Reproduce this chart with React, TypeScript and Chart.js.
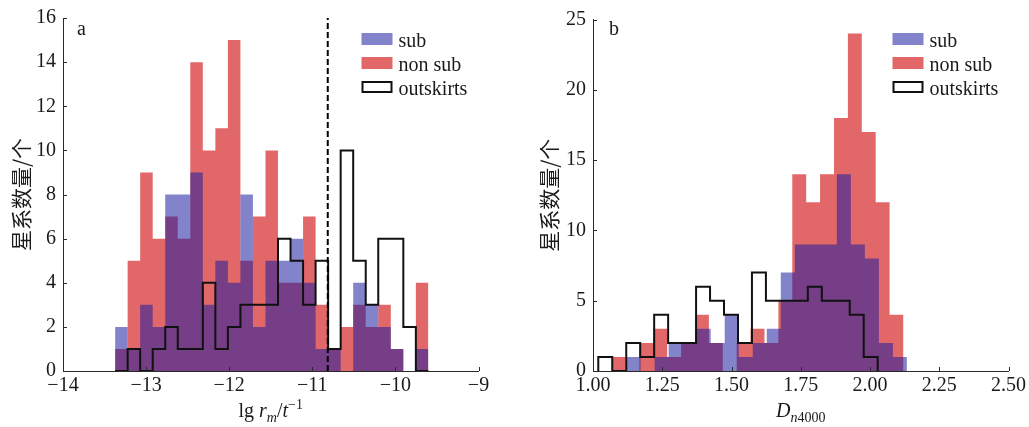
import { useEffect, useRef } from "react";
import { Chart, registerables } from "chart.js";

Chart.register(...registerables);

const SERIF = "'Liberation Serif', 'Times New Roman', serif";
const CJK = "'Noto Sans CJK SC', 'Noto Sans CJK JP', sans-serif";
const AXIS = "#2a2a2a";
const SUB_COLOR = "rgba(30,30,160,0.55)";
const NONSUB_COLOR = "rgba(214,39,40,0.7)";
const OUT_COLOR = "#111111";

const seriesNames = ["sub", "non sub", "outskirts"];
const yTitle = "星系数量/个";

// ---- panel a : lg r_m / t^-1 ----
const lgBinStart = -13.373;
const lgBinWidth = 0.1508;
const lgSub = [2, 1, 3, 2, 8, 8, 9, 3, 5, 4, 8, 2, 5, 5, 6, 4, 1, 1, 0, 4, 3, 2, 1, 0, 1];
const lgNonSub = [1, 5, 9, 6, 7, 6, 14, 10, 11, 15, 5, 7, 10, 4, 4, 7, 3, 1, 2, 3, 2, 3, 1, 0, 4];
const lgOutskirts = [0, 1, 0, 1, 2, 1, 1, 4, 1, 2, 3, 3, 3, 6, 5, 3, 5, 1, 10, 5, 3, 6, 6, 2, 0];
const lgCut = -10.814;
const lgXTicks = [-14, -13, -12, -11, -10, -9];
const lgYTicks = [0, 2, 4, 6, 8, 10, 12, 14, 16];

// ---- panel b : D_n4000 ----
const dnSubStart = 1.1213;
const dnSubWidth = 0.0506;
const dnSub = [1, 0, 1, 2, 2, 3, 2, 4, 1, 2, 3, 7, 9, 9, 9, 14, 9, 8, 2, 1];
const dnNonSubStart = 1.0671;
const dnNonSubWidth = 0.05018;
const dnNonSub = [1, 0, 2, 3, 1, 2, 4, 2, 0, 2, 3, 2, 5, 14, 12, 14, 18, 24, 17, 12, 4];
const dnOutStart = 1.0191;
const dnOutWidth = 0.05043;
const dnOutskirts = [1, 0, 2, 1, 4, 2, 2, 6, 5, 4, 2, 7, 5, 5, 5, 6, 5, 5, 4, 1];
const dnXTicks = [1.0, 1.25, 1.5, 1.75, 2.0, 2.25, 2.5];
const dnYTicks = [0, 5, 10, 15, 20, 25];

function stepPoints(start: number, width: number, counts: number[]) {
  const pts: { x: number; y: number }[] = [{ x: start, y: 0 }];
  counts.forEach((c, i) => pts.push({ x: start + i * width, y: c }));
  pts.push({ x: start + counts.length * width, y: 0 });
  return pts;
}

type Seg = { t: string; italic?: boolean; size?: number; dy?: number };

function drawRich(ctx: CanvasRenderingContext2D, segs: Seg[], cx: number, baseline: number) {
  const fontOf = (s: Seg) => `${s.italic ? "italic " : ""}${s.size || 20}px ${SERIF}`;
  const widths = segs.map((s) => {
    ctx.font = fontOf(s);
    return ctx.measureText(s.t).width;
  });
  const total = widths.reduce((a, b) => a + b, 0);
  let x = cx - total / 2;
  ctx.textAlign = "left";
  ctx.textBaseline = "alphabetic";
  segs.forEach((s, i) => {
    ctx.font = fontOf(s);
    ctx.fillText(s.t, x, baseline + (s.dy || 0));
    x += widths[i];
  });
}

type PanelCfg = {
  letter: string;
  letterX: number;
  xTitle: Seg[];
  yTitleOffset: number;
  legendRightOffset: number;
};

function decorPlugin(cfg: PanelCfg) {
  return {
    id: "decor" + cfg.letter,
    afterDraw(chart: any) {
      const ctx: CanvasRenderingContext2D = chart.ctx;
      const area = chart.chartArea;
      const xs = chart.scales.x;
      const ys = chart.scales.y;
      ctx.save();
      // inward tick marks
      ctx.strokeStyle = AXIS;
      ctx.lineWidth = 1;
      ctx.beginPath();
      ys.ticks.forEach((t: any) => {
        const y = Math.round(ys.getPixelForValue(t.value)) + 0.5;
        ctx.moveTo(area.left, y);
        ctx.lineTo(area.left + 4, y);
      });
      xs.ticks.forEach((t: any) => {
        const x = Math.round(xs.getPixelForValue(t.value)) + 0.5;
        ctx.moveTo(x, area.bottom);
        ctx.lineTo(x, area.bottom - 4);
      });
      ctx.stroke();

      ctx.fillStyle = "#1a1a1a";
      // panel letter
      ctx.font = `20px ${SERIF}`;
      ctx.textAlign = "left";
      ctx.textBaseline = "alphabetic";
      ctx.fillText(cfg.letter, cfg.letterX, 35);

      // x title
      drawRich(ctx, cfg.xTitle, (area.left + area.right) / 2, 417);

      // y title
      ctx.save();
      ctx.translate(area.left - cfg.yTitleOffset, (area.top + area.bottom) / 2);
      ctx.rotate(-Math.PI / 2);
      ctx.font = `21px ${CJK}`;
      ctx.textAlign = "center";
      ctx.textBaseline = "middle";
      ctx.fillText(yTitle, 0, 0);
      ctx.restore();

      // legend
      const bx = area.right - cfg.legendRightOffset;
      const tops = [33, 57, 81];
      const fills = [SUB_COLOR, NONSUB_COLOR, "#ffffff"];
      tops.forEach((top, i) => {
        ctx.fillStyle = fills[i];
        ctx.fillRect(bx, top, 31, 12);
        if (i === 2) {
          ctx.strokeStyle = OUT_COLOR;
          ctx.lineWidth = 2;
          ctx.strokeRect(bx + 1, top + 1, 29, 10);
        }
        ctx.fillStyle = "#1a1a1a";
        ctx.font = `20px ${SERIF}`;
        ctx.textAlign = "left";
        ctx.textBaseline = "alphabetic";
        ctx.fillText(seriesNames[i], bx + 37, top + 13.5);
      });
      ctx.restore();
    },
  };
}

function histDatasets(sub: any[], nonSub: any[], out: any[]) {
  return [
    {
      label: seriesNames[1],
      data: nonSub,
      stepped: true,
      fill: "origin",
      backgroundColor: NONSUB_COLOR,
      borderWidth: 0,
      pointRadius: 0,
      order: 4,
    },
    {
      label: seriesNames[0],
      data: sub,
      stepped: true,
      fill: "origin",
      backgroundColor: SUB_COLOR,
      borderWidth: 0,
      pointRadius: 0,
      order: 3,
    },
    {
      label: seriesNames[2],
      data: out,
      stepped: true,
      fill: false,
      borderColor: OUT_COLOR,
      borderWidth: 2,
      pointRadius: 0,
      order: 2,
    },
  ];
}

function makeOptions(o: {
  xmin: number;
  xmax: number;
  ymax: number;
  xTicks: number[];
  yTicks: number[];
  yWidth: number;
  padRight: number;
  padTop: number;
  fmt: (v: number) => string;
}) {
  const tickFont = { family: SERIF, size: 20 };
  return {
    responsive: false,
    animation: false,
    events: [],
    layout: { padding: { left: 0, right: o.padRight, top: o.padTop, bottom: 0 } },
    plugins: { legend: { display: false }, tooltip: { enabled: false } },
    scales: {
      x: {
        type: "linear",
        min: o.xmin,
        max: o.xmax,
        grid: { display: false, drawTicks: false },
        border: { display: true, color: AXIS, width: 1 },
        ticks: {
          font: tickFont,
          color: "#1a1a1a",
          padding: 3,
          maxRotation: 0,
          autoSkip: false,
          callback: (v: any) => o.fmt(Number(v)),
        },
        afterBuildTicks: (s: any) => {
          s.ticks = o.xTicks.map((v) => ({ value: v }));
        },
        afterFit: (s: any) => {
          s.height = 56;
          s.paddingLeft = 0;
          s.paddingRight = 0;
        },
      },
      y: {
        type: "linear",
        min: 0,
        max: o.ymax,
        grid: { display: false, drawTicks: false },
        border: { display: true, color: AXIS, width: 1 },
        ticks: {
          font: tickFont,
          color: "#1a1a1a",
          padding: 7,
          autoSkip: false,
        },
        afterBuildTicks: (s: any) => {
          s.ticks = o.yTicks.map((v) => ({ value: v }));
        },
        afterFit: (s: any) => {
          s.width = o.yWidth;
          s.paddingTop = 0;
          s.paddingBottom = 0;
        },
      },
    },
  };
}

export default function App() {
  const refA = useRef<HTMLCanvasElement>(null);
  const refB = useRef<HTMLCanvasElement>(null);

  useEffect(() => {
    const dsA: any[] = histDatasets(
      stepPoints(lgBinStart, lgBinWidth, lgSub),
      stepPoints(lgBinStart, lgBinWidth, lgNonSub),
      stepPoints(lgBinStart, lgBinWidth, lgOutskirts)
    );
    dsA.push({
      label: "cut",
      data: [
        { x: lgCut, y: 0 },
        { x: lgCut, y: 16 },
      ],
      fill: false,
      borderColor: "#000000",
      borderWidth: 2,
      borderDash: [6, 3],
      pointRadius: 0,
      order: 1,
    });
    const chartA = new Chart(refA.current as HTMLCanvasElement, {
      type: "line",
      data: { datasets: dsA },
      options: makeOptions({
        xmin: -14,
        xmax: -9,
        ymax: 16,
        xTicks: lgXTicks,
        yTicks: lgYTicks,
        yWidth: 63,
        padRight: 36.5,
        padTop: 18,
        fmt: (v) => String(v).replace("-", "\u2212"),
      }) as any,
      plugins: [
        decorPlugin({
          letter: "a",
          letterX: 77,
          xTitle: [
            { t: "lg " },
            { t: "r", italic: true },
            { t: "m", italic: true, size: 14, dy: 5 },
            { t: "/" },
            { t: "t", italic: true },
            { t: "\u22121", size: 14, dy: -8 },
          ],
          yTitleOffset: 42,
          legendRightOffset: 117,
        }),
      ],
    });

    const chartB = new Chart(refB.current as HTMLCanvasElement, {
      type: "line",
      data: {
        datasets: histDatasets(
          stepPoints(dnSubStart, dnSubWidth, dnSub),
          stepPoints(dnNonSubStart, dnNonSubWidth, dnNonSub),
          stepPoints(dnOutStart, dnOutWidth, dnOutskirts)
        ) as any,
      },
      options: makeOptions({
        xmin: 1.0,
        xmax: 2.5,
        ymax: 25,
        xTicks: dnXTicks,
        yTicks: dnYTicks,
        yWidth: 78,
        padRight: 20.5,
        padTop: 19.5,
        fmt: (v) => v.toFixed(2),
      }) as any,
      plugins: [
        decorPlugin({
          letter: "b",
          letterX: 94,
          xTitle: [
            { t: "D", italic: true },
            { t: "n", italic: true, size: 14, dy: 5 },
            { t: "4000", size: 14, dy: 5 },
          ],
          yTitleOffset: 44,
          legendRightOffset: 116,
        }),
      ],
    });

    return () => {
      chartA.destroy();
      chartB.destroy();
    };
  }, []);

  return (
    <div style={{ position: "absolute", left: 0, top: 0, width: 1029, height: 427, background: "#fff" }}>
      <canvas ref={refA} width={515} height={427} style={{ position: "absolute", left: 0, top: 0 }} />
      <canvas ref={refB} width={514} height={427} style={{ position: "absolute", left: 515, top: 0 }} />
    </div>
  );
}
